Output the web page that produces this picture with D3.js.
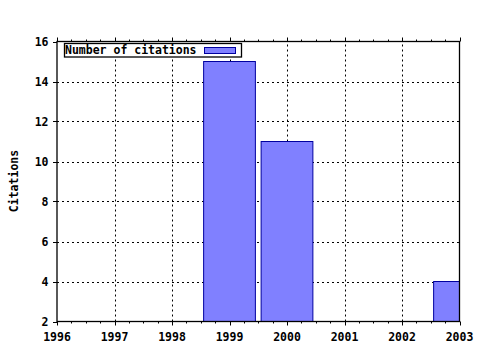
<!DOCTYPE html>
<html><head><meta charset="utf-8">
<script src="https://cdn.jsdelivr.net/npm/d3@7"></script>
<style>body{margin:0;background:#fff}svg{display:block}text{font-family:"DejaVu Sans Mono",monospace;font-weight:bold;font-size:11.5px;fill:#000}</style>
</head><body><svg id="c" width="480" height="350"></svg>
<script>
const years = [1999, 2000, 2003];
const citations = [15, 11, 4];
const xTicks = [1996, 1997, 1998, 1999, 2000, 2001, 2002, 2003];
const yTicks = [2, 4, 6, 8, 10, 12, 14, 16];
const seriesName = "Number of citations";
const yLabel = "Citations";

const svg = d3.select("#c");
const L = 57, R = 459.5, T = 41.5, B = 321.5;
const x = d3.scaleLinear().domain([1996, 2003]).range([L, R]);
const y = d3.scaleLinear().domain([2, 16]).range([B, T]);

svg.append("rect").attr("width",480).attr("height",350).attr("fill","#fff");
svg.append("defs").append("clipPath").attr("id","clip").append("rect")
  .attr("x",L).attr("y",T).attr("width",R-L).attr("height",B-T);

// grid
const g = svg.append("g").attr("stroke","#000").attr("stroke-width",1).attr("stroke-dasharray","2,3");
xTicks.slice(1,-1).forEach(t=>{g.append("line").attr("x1",Math.round(x(t))+0.5).attr("x2",Math.round(x(t))+0.5).attr("y1",B).attr("y2",T);});
yTicks.slice(1,-1).forEach(t=>{g.append("line").attr("y1",Math.round(y(t))+0.5).attr("y2",Math.round(y(t))+0.5).attr("x1",L).attr("x2",R);});

// bars
const bw = 0.9;
svg.append("g").attr("clip-path","url(#clip)").selectAll("rect").data(years).join("rect")
  .attr("x",(d)=>x(d-bw/2)).attr("width",(d)=>x(d+bw/2)-x(d-bw/2))
  .attr("y",(d,i)=>y(citations[i])).attr("height",(d,i)=>B-y(citations[i]))
  .attr("fill","#8080ff").attr("stroke","#0000a0").attr("stroke-width",1);

// ticks
const tk = svg.append("g").attr("stroke","#000").attr("stroke-width",1);
const minor = [];
for(let yr=1996; yr<2003; yr++){ for(let k=1;k<4;k++) minor.push(yr+k/4); }
xTicks.forEach(t=>{const px=Math.round(x(t))+0.5;
  tk.append("line").attr("x1",px).attr("x2",px).attr("y1",B).attr("y2",B+4);
  tk.append("line").attr("x1",px).attr("x2",px).attr("y1",T).attr("y2",T-4);});
minor.forEach(t=>{const px=Math.round(x(t))+0.5;
  tk.append("line").attr("x1",px).attr("x2",px).attr("y1",B).attr("y2",B+2);
  tk.append("line").attr("x1",px).attr("x2",px).attr("y1",T).attr("y2",T-2);});
yTicks.forEach(t=>{const py=Math.round(y(t))+0.5;
  tk.append("line").attr("x1",L).attr("x2",L-4).attr("y1",py).attr("y2",py);});

// border
svg.append("rect").attr("x",L).attr("y",T).attr("width",R-L).attr("height",B-T)
  .attr("fill","none").attr("stroke","#000").attr("stroke-width",1.3);

// tick labels
svg.append("g").selectAll("text").data(xTicks).join("text")
  .attr("x",d=>x(d)).attr("y",341).attr("text-anchor","middle").text(d=>d);
svg.append("g").selectAll("text").data(yTicks).join("text")
  .attr("x",48.5).attr("y",d=>y(d)+4).attr("text-anchor","end").text(d=>d);

// y label
svg.append("text").attr("transform","translate(17.5,181) rotate(-90)").attr("text-anchor","middle").text(yLabel);

// legend
svg.append("rect").attr("x",64.5).attr("y",43.5).attr("width",177).attr("height",13.5)
  .attr("fill","#fff").attr("stroke","#000").attr("stroke-width",1.3);
svg.append("text").attr("x",65).attr("y",54).text(seriesName);
svg.append("rect").attr("x",204.5).attr("y",47.5).attr("width",31).attr("height",6)
  .attr("fill","#8080ff").attr("stroke","#0000a0");
</script></body></html>
